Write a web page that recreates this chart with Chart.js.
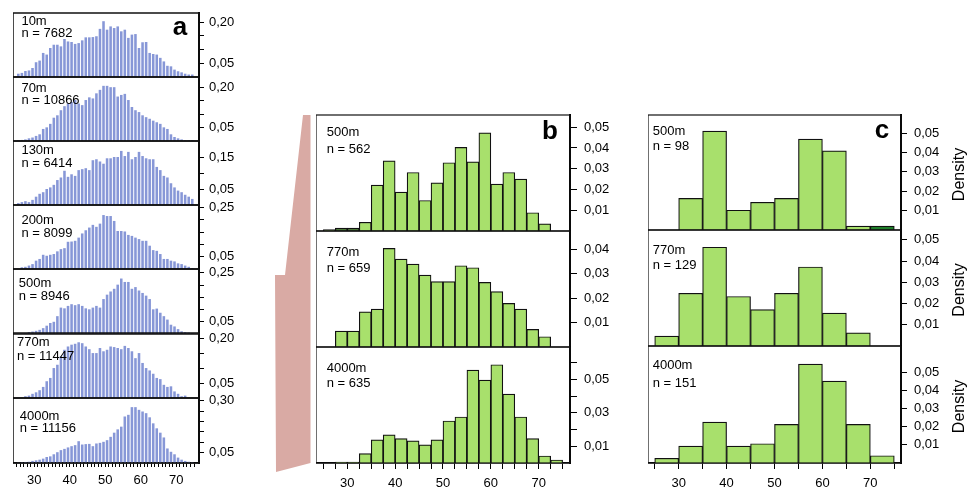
<!DOCTYPE html>
<html>
<head>
<meta charset="utf-8">
<script src="https://cdn.jsdelivr.net/npm/chart.js@4.4.1/dist/chart.umd.min.js"></script>
<style>
body { margin: 0; background: #fff; width: 976px; height: 488px; overflow: hidden; position: relative; }
canvas { position: absolute; }
#link { position: absolute; left: 0; top: 0; }
</style>
</head>
<body>
<svg id="link" width="976" height="488"><polygon points="303,115 310.5,115 310.5,463 276,472 275,275 285,275" fill="#d9aaa4"/></svg>
<script>
// --- data: panel a (1-unit bins) ---
const aBins = [25,26,27,28,29,30,31,32,33,34,35,36,37,38,39,40,41,42,43,44,45,46,47,48,49,
               50,51,52,53,54,55,56,57,58,59,60,61,62,63,64,65,66,67,68,69,70,71,72,73,74];
const aNames = ['10m', '70m', '130m', '200m', '500m', '770m', '4000m'];
const aCounts = ['n = 7682', 'n = 10866', 'n = 6414', 'n = 8099', 'n = 8946', 'n = 11447', 'n = 11156'];
const a10m = [0.012,0.015,0.022,0.024,0.033,0.054,0.060,0.088,0.082,0.106,0.118,0.118,0.112,0.139,0.130,0.128,0.121,0.124,0.134,0.145,
              0.145,0.146,0.149,0.176,0.204,0.173,0.185,0.179,0.185,0.167,0.173,0.143,0.155,0.157,0.106,0.127,0.128,0.088,0.084,0.082,
              0.070,0.057,0.041,0.039,0.027,0.021,0.017,0.012,0.009,0.009];
const a70m = [0.003,0.004,0.006,0.010,0.013,0.019,0.025,0.045,0.051,0.064,0.087,0.096,0.115,0.130,0.140,0.146,0.153,0.140,0.134,0.153,
              0.163,0.159,0.178,0.191,0.206,0.206,0.201,0.201,0.166,0.172,0.176,0.153,0.127,0.115,0.108,0.096,0.089,0.083,0.076,0.070,
              0.064,0.051,0.045,0.025,0.015,0.010,0.006,0.003,0.003,0.003];
const a130m = [0.006,0.009,0.012,0.009,0.016,0.026,0.035,0.040,0.050,0.055,0.063,0.078,0.086,0.107,0.088,0.096,0.091,0.109,0.112,0.115,
               0.109,0.140,0.143,0.136,0.129,0.146,0.146,0.150,0.150,0.169,0.153,0.166,0.143,0.150,0.166,0.153,0.146,0.143,0.143,0.119,
               0.109,0.091,0.086,0.068,0.055,0.045,0.040,0.032,0.026,0.019];
const a200m = [0.001,0.007,0.009,0.014,0.020,0.034,0.041,0.058,0.054,0.058,0.061,0.072,0.081,0.085,0.111,0.112,0.115,0.128,0.145,0.158,
               0.169,0.180,0.172,0.185,0.220,0.216,0.216,0.196,0.155,0.155,0.153,0.139,0.135,0.128,0.122,0.115,0.115,0.095,0.077,0.074,
               0.061,0.041,0.041,0.034,0.031,0.023,0.020,0.014,0.009,0.004];
const a500m = [0,0.0014,0.004,0.008,0.010,0.013,0.017,0.024,0.034,0.045,0.050,0.073,0.108,0.105,0.115,0.122,0.118,0.122,0.115,0.105,
               0.101,0.108,0.115,0.108,0.143,0.161,0.174,0.185,0.202,0.227,0.213,0.213,0.185,0.192,0.178,0.168,0.157,0.143,0.101,0.104,
               0.087,0.073,0.059,0.038,0.031,0.020,0.011,0.008,0.006,0.003];
const a770m = [0.001,0.002,0.006,0.008,0.014,0.019,0.026,0.037,0.056,0.067,0.100,0.111,0.139,0.161,0.172,0.178,0.181,0.186,0.183,0.172,
               0.163,0.150,0.150,0.167,0.156,0.161,0.172,0.170,0.167,0.163,0.174,0.167,0.156,0.133,0.150,0.117,0.100,0.092,0.081,0.067,
               0.063,0.044,0.037,0.039,0.022,0.014,0.006,0.008,0.002,0.001];
const a4000m = [0.002,0.003,0.005,0.006,0.010,0.013,0.016,0.021,0.029,0.032,0.042,0.052,0.062,0.068,0.075,0.081,0.086,0.105,0.089,0.091,
                0.092,0.081,0.094,0.097,0.102,0.110,0.126,0.146,0.162,0.175,0.224,0.232,0.269,0.269,0.256,0.248,0.240,0.220,0.191,0.167,
                0.146,0.123,0.070,0.054,0.042,0.026,0.016,0.010,0.006,0.003];

// --- data: panel b (2.5-unit bins) ---
const bBins = [25,27.5,30,32.5,35,37.5,40,42.5,45,47.5,50,52.5,55,57.5,60,62.5,65,67.5,70,72.5];
const bNames = ['500m', '770m', '4000m'];
const bCounts = ['n = 562', 'n = 659', 'n = 635'];
const b500m = [0.0007,0.0014,0.0014,0.0042,0.0221,0.0338,0.0187,0.0282,0.0147,0.0232,0.0329,0.0403,0.0333,0.0473,0.0226,0.0282,0.0250,0.0088,0.0034,0];
const b770m = [0,0.0065,0.0065,0.0144,0.0155,0.0403,0.0359,0.0339,0.0294,0.0267,0.0267,0.0332,0.0324,0.0264,0.0226,0.0178,0.0155,0.0072,0.0042,0];
const b4000m = [0,0.0006,0.0006,0.0056,0.0138,0.0168,0.0146,0.0132,0.0108,0.0138,0.0251,0.0275,0.0555,0.0495,0.0587,0.0411,0.0275,0.0146,0.0042,0.0018];

// --- data: panel c (5-unit bins) ---
const cBins = [25,30,35,40,45,50,55,60,65,70];
const cNames = ['500m', '770m', '4000m'];
const cCounts = ['n = 98', 'n = 129', 'n = 151'];
const c500m = [0,0.0163,0.0510,0.0102,0.0143,0.0163,0.0469,0.0408,0.0020,0.0020];
const c770m = [0.0047,0.0248,0.0465,0.0233,0.0171,0.0248,0.0372,0.0155,0.0062,0];
const c4000m = [0.0026,0.0093,0.0225,0.0093,0.0106,0.0212,0.0543,0.0450,0.0212,0.0040];

// tick labels
const xLabelVals = [30, 40, 50, 60, 70];
const aYTicks = [[0.05,0.10,0.15,0.20],[0.05,0.10,0.15,0.20],[0.05,0.10,0.15],[0.05,0.10,0.15,0.20,0.25],
                 [0.05,0.10,0.15,0.20,0.25],[0.05,0.10,0.15,0.20],[0.05,0.10,0.15,0.20,0.25,0.30]];
const aYShow = [[0.05,0.20],[0.05,0.20],[0.05,0.15],[0.05,0.25],[0.05,0.25],[0.05,0.20],[0.05,0.30]];
const bYTicks = [[0.01,0.02,0.03,0.04,0.05],[0.01,0.02,0.03,0.04],[0.01,0.02,0.03,0.04,0.05,0.06]];
const bYShow = [[0.01,0.02,0.03,0.04,0.05],[0.01,0.02,0.03,0.04],[0.01,0.03,0.05]];
const cYTicks = [[0.01,0.02,0.03,0.04,0.05],[0.01,0.02,0.03,0.04,0.05],[0.01,0.02,0.03,0.04,0.05]];

const FONT = "'Liberation Sans', Arial, Helvetica, sans-serif";
Chart.defaults.font.family = FONT;
Chart.defaults.color = '#000';

const fmt = v => v.toFixed(2).replace('.', ',');
const has = (arr, v) => arr.some(s => Math.abs(s - v) < 1e-9);

// frame, row labels, panel letter, Density title
const decor = {
    id: 'decor',
    afterDraw(chart, args, o) {
        const ctx = chart.ctx, a = chart.chartArea;
        ctx.save();
        ctx.strokeStyle = '#111';
        ctx.lineWidth = o.frameW;
        ctx.strokeRect(a.left, a.top, a.right - a.left, a.bottom - a.top);
        ctx.fillStyle = '#000';
        ctx.textBaseline = 'middle';
        ctx.textAlign = 'left';
        ctx.font = '13px ' + FONT;
        ctx.fillText(o.name, a.left + o.tx, a.top + o.ty[0]);
        ctx.fillText(o.n, a.left + o.tx, a.top + o.ty[1]);
        if (o.letter) {
            ctx.font = 'bold 26px ' + FONT;
            ctx.textAlign = 'center';
            ctx.fillText(o.letter, a.left + o.letterPos[0], a.top + o.letterPos[1]);
        }
        if (o.density) {
            ctx.font = '16px ' + FONT;
            ctx.textAlign = 'center';
            ctx.translate(a.right + o.density, (a.top + a.bottom) / 2 + 2);
            ctx.rotate(-Math.PI / 2);
            ctx.fillText('Density', 0, 0);
        }
        ctx.restore();
    }
};

function histRow(o) {
    // generous padding so the tick labels never push the plot area around
    const padT = 22, padB = o.xTicks ? 0 : 22;
    const xH = o.xTicks ? o.xH : 0;
    const w = Math.round(o.plotW + o.axisW), h = Math.round(o.height + padT + padB + xH);
    const cv = document.createElement('canvas');
    cv.width = w; cv.height = h;
    cv.style.left = o.left + 'px';
    cv.style.top = (o.top - padT) + 'px';
    document.body.appendChild(cv);

    const colors = o.values.map((v, i) => (o.dark && o.dark.includes(i)) ? o.darkColor : o.color);
    new Chart(cv, {
        type: 'bar',
        data: {
            datasets: [{
                data: o.bins.map((b, i) => ({ x: b + o.binW / 2, y: o.values[i] })),
                backgroundColor: colors,
                borderColor: o.border || 'rgba(0,0,0,0)',
                borderWidth: o.border ? 1.2 : 0,
                barPercentage: o.barPct,
                categoryPercentage: 1
            }]
        },
        options: {
            responsive: false,
            animation: false,
            layout: { padding: { top: padT, bottom: padB, left: 0, right: 0 } },
            plugins: { legend: { display: false }, tooltip: { enabled: false }, decor: o.decor },
            scales: {
                x: {
                    type: 'linear', min: o.xMin, max: o.xMax, offset: false,
                    display: !!o.xTicks,
                    afterFit: s => { s.height = xH; s.paddingLeft = 0; s.paddingRight = 0; },
                    afterBuildTicks: s => { if (o.xTicks) s.ticks = o.xTicks.map(v => ({ value: v })); },
                    grid: { offset: false, drawOnChartArea: false, drawTicks: true, tickLength: o.xTickLen, color: '#000' },
                    border: { display: true, color: '#000', width: 1.5 },
                    ticks: {
                        autoSkip: false, maxRotation: 0, padding: o.xPad, font: { size: 13 },
                        callback: v => has(xLabelVals, v) ? String(v) : ''
                    }
                },
                y: {
                    position: 'right', min: 0, max: o.yMax,
                    afterFit: s => { s.width = o.axisW; s.paddingTop = 0; s.paddingBottom = 0; },
                    afterBuildTicks: s => { s.ticks = o.yTicks.map(v => ({ value: v })); },
                    grid: { drawOnChartArea: false, drawTicks: true, tickLength: o.yTickLen, color: '#000' },
                    border: { display: true, color: '#000', width: 2 },
                    ticks: {
                        autoSkip: false, padding: o.yPad, font: { size: 13 },
                        callback: v => has(o.yShow, v) ? fmt(v) : ''
                    }
                }
            }
        },
        plugins: [decor]
    });
}

// panel a
const aEdges = [13, 77, 140.5, 204.5, 268.5, 333, 398, 463];
const aSeries = [a10m, a70m, a130m, a200m, a500m, a770m, a4000m];
const aMax = [0.234, 0.239, 0.200, 0.261, 0.266, 0.217, 0.313];
const aTxt = [[8, 20], [11, 23], [9.5, 22], [15.5, 28], [14.5, 27], [9.7, 23.7], [18, 30]];
const aTx = [8.4, 8.4, 8.4, 8.4, 5.7, 4, 6.7];
const aXTicks = [];
for (let v = 25; v <= 75; v += 1) aXTicks.push(v);
aSeries.forEach((vals, r) => {
    histRow({
        left: 13.3, top: aEdges[r], height: aEdges[r + 1] - aEdges[r], plotW: 186, axisW: 48,
        xMin: 24.0, xMax: 76.4, bins: aBins, binW: 1, values: vals,
        color: '#8797d7', barPct: 0.72,
        yMax: aMax[r], yTicks: aYTicks[r], yShow: aYShow[r], yTickLen: 5, yPad: 5,
        xTicks: r === 6 ? aXTicks : null, xH: 26, xTickLen: 4, xPad: 6,
        decor: { frameW: 1.5, name: aNames[r], n: aCounts[r], tx: aTx[r], ty: aTxt[r],
                 letter: r === 0 ? 'a' : null, letterPos: [167, 15] }
    });
});

// panel b
const bEdges = [115, 230.7, 346.7, 462.7];
const bSeries = [b500m, b770m, b4000m];
const bMax = [0.0559, 0.0474, 0.0693];
const bTxt = [[17, 34], [21, 37], [21, 36.6]];
const bXTicks = [];
for (let v = 25; v <= 75; v += 2.5) bXTicks.push(v);
bSeries.forEach((vals, r) => {
    histRow({
        left: 316, top: bEdges[r], height: bEdges[r + 1] - bEdges[r], plotW: 254, axisW: 62,
        xMin: 23.46, xMax: 76.54, bins: bBins, binW: 2.5, values: vals,
        color: '#a8e06c', border: '#111', barPct: 1,
        dark: r === 0 ? [1, 2] : null, darkColor: '#4f7a3a',
        yMax: bMax[r], yTicks: bYTicks[r], yShow: bYShow[r], yTickLen: 7, yPad: 7,
        xTicks: r === 2 ? bXTicks : null, xH: 26, xTickLen: 6, xPad: 7,
        decor: { frameW: 1.2, name: bNames[r], n: bCounts[r], tx: 10.7, ty: bTxt[r],
                 letter: r === 0 ? 'b' : null, letterPos: [234, 17] }
    });
});

// panel c
const cEdges = [115, 230, 345.7, 462.7];
const cSeries = [c500m, c770m, c4000m];
const cMax = [0.0593, 0.0546, 0.0643];
const cTxt = [[16.7, 31.7], [20, 35.7], [19.3, 37]];
const cXTicks = [25, 30, 35, 40, 45, 50, 55, 60, 65, 70, 75];
cSeries.forEach((vals, r) => {
    histRow({
        left: 648.3, top: cEdges[r], height: cEdges[r + 1] - cEdges[r], plotW: 253.4, axisW: 74,
        xMin: 23.6, xMax: 76.4, bins: cBins, binW: 5, values: vals,
        color: '#a8e06c', border: '#111', barPct: 1,
        dark: r === 0 ? [9] : null, darkColor: '#1f7f2a',
        yMax: cMax[r], yTicks: cYTicks[r], yShow: cYTicks[r], yTickLen: 6, yPad: 7,
        xTicks: r === 2 ? cXTicks : null, xH: 26, xTickLen: 6, xPad: 7,
        decor: { frameW: 1.2, name: cNames[r], n: cCounts[r], tx: 4.7, ty: cTxt[r],
                 letter: r === 0 ? 'c' : null, letterPos: [234, 16], density: 59 }
    });
});
</script>
</body>
</html>
